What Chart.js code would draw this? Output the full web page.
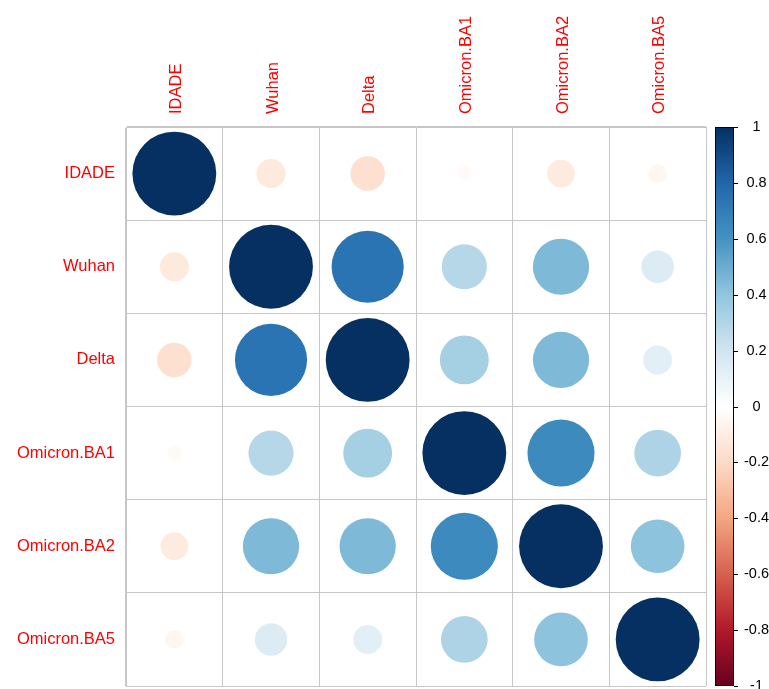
<!DOCTYPE html>
<html>
<head>
<meta charset="utf-8">
<script src="https://cdn.jsdelivr.net/npm/chart.js@4"></script>
<style>
  body { margin: 0; background: #fff; }
  #wrap { position: relative; width: 769px; height: 689px; }
</style>
</head>
<body>
<div id="wrap"><canvas id="corrChart"></canvas></div>
<script>
// variables (same order on both axes)
const variaveis = ["IDADE", "Wuhan", "Delta", "Omicron.BA1", "Omicron.BA2", "Omicron.BA5"];

// correlation matrix, one row per variable
const corIdade = [1, -0.12, -0.17, -0.03, -0.11, -0.05];
const corWuhan = [-0.12, 1, 0.74, 0.29, 0.45, 0.15];
const corDelta = [-0.17, 0.74, 1, 0.34, 0.45, 0.12];
const corBA1 = [-0.03, 0.29, 0.34, 1, 0.64, 0.31];
const corBA2 = [-0.11, 0.45, 0.45, 0.64, 1, 0.41];
const corBA5 = [-0.05, 0.15, 0.12, 0.31, 0.41, 1];
const matriz = [corIdade, corWuhan, corDelta, corBA1, corBA2, corBA5];

// colour legend ticks
const ticksLegenda = [-1, -0.8, -0.6, -0.4, -0.2, 0, 0.2, 0.4, 0.6, 0.8, 1];

// RdBu palette, from -1 to 1
const paleta = ["#67001F", "#B2182B", "#D6604D", "#F4A582", "#FDDBC7", "#FFFFFF",
  "#D1E5F0", "#92C5DE", "#4393C3", "#2166AC", "#053061"];

function hexParaRgb(h) {
  return [parseInt(h.slice(1, 3), 16), parseInt(h.slice(3, 5), 16), parseInt(h.slice(5, 7), 16)];
}

function corPara(v) {
  const pos = (v + 1) / 2 * (paleta.length - 1);
  const i = Math.min(Math.floor(pos), paleta.length - 2);
  const t = pos - i;
  const a = hexParaRgb(paleta[i]);
  const b = hexParaRgb(paleta[i + 1]);
  const c = a.map((x, k) => Math.round(x + (b[k] - x) * t));
  return `rgb(${c[0]}, ${c[1]}, ${c[2]})`;
}

const pontos = [];
matriz.forEach((linha, i) => {
  linha.forEach((valor, j) => {
    pontos.push({ x: variaveis[j], y: variaveis[i], v: valor });
  });
});

// circle radius: 0.45 cell * sqrt(|r|), like corrplot
function raioCirculo(c) {
  const a = c.chart.chartArea;
  if (!a || !c.raw) return 0;
  const n = variaveis.length;
  const celula = Math.min((a.right - a.left) / n, (a.bottom - a.top) / n);
  return 0.45 * celula * Math.sqrt(Math.abs(c.raw.v));
}

// draws the colour bar next to the right axis
const barraCores = {
  id: "barraCores",
  afterDraw(chart) {
    const ctx = chart.ctx;
    const escala = chart.scales.legenda;
    const area = chart.chartArea;
    const x0 = area.right + 9;
    const largura = 19;
    const yTopo = escala.getPixelForValue(1);
    const yBase = escala.getPixelForValue(-1);

    const grad = ctx.createLinearGradient(0, yBase, 0, yTopo);
    paleta.forEach((c, k) => grad.addColorStop(k / (paleta.length - 1), c));

    ctx.save();
    ctx.fillStyle = grad;
    ctx.fillRect(x0, yTopo, largura, yBase - yTopo);
    ctx.strokeStyle = "#000";
    ctx.lineWidth = 1;
    ctx.strokeRect(x0 + 0.5, yTopo + 0.5, largura - 1, yBase - yTopo - 1);

    ctx.beginPath();
    ticksLegenda.forEach((t) => {
      const y = Math.round(escala.getPixelForValue(t)) + 0.5;
      ctx.moveTo(x0 + largura, y);
      ctx.lineTo(x0 + largura + 4, y);
    });
    ctx.stroke();
    ctx.restore();
  },
};

const fonteRotulos = { family: "'Liberation Sans', Arial, sans-serif", size: 16.5 };

function semPadding(s) {
  s.paddingTop = 0;
  s.paddingBottom = 0;
  s.paddingLeft = 0;
  s.paddingRight = 0;
}

const config = {
  type: "scatter",
  data: {
    datasets: [
      {
        data: pontos,
        xAxisID: "x",
        yAxisID: "y",
        pointBackgroundColor: (c) => corPara(c.raw ? c.raw.v : 0),
        pointBorderWidth: 0,
        pointRadius: raioCirculo,
        pointHoverRadius: raioCirculo,
        clip: false,
      },
    ],
  },
  options: {
    responsive: true,
    maintainAspectRatio: false,
    animation: false,
    events: [],
    layout: { autoPadding: false, padding: { top: 0, right: 0, bottom: 3, left: 0 } },
    plugins: {
      legend: { display: false },
      tooltip: { enabled: false },
    },
    scales: {
      x: {
        type: "category",
        position: "top",
        labels: variaveis,
        offset: true,
        grid: { offset: true, color: "#c6c6c6", drawTicks: false },
        border: { color: "#c6c6c6" },
        ticks: { color: "#FF0000", font: fonteRotulos, minRotation: 90, maxRotation: 90, padding: 13, labelOffset: 22 },
        afterFit: (s) => { s.height = 127; semPadding(s); },
      },
      y: {
        type: "category",
        position: "left",
        labels: variaveis,
        offset: true,
        grid: { offset: true, color: "#c6c6c6", drawTicks: false },
        border: { color: "#c6c6c6" },
        ticks: { color: "#FF0000", font: fonteRotulos, padding: 11 },
        afterFit: (s) => { s.width = 126; semPadding(s); },
      },
      legenda: {
        type: "linear",
        position: "right",
        min: -1,
        max: 1,
        grid: { display: false, drawTicks: false },
        border: { display: false },
        afterBuildTicks: (s) => { s.ticks = ticksLegenda.map((v) => ({ value: v })); },
        ticks: {
          color: "#000",
          font: { family: "'Liberation Sans', Arial, sans-serif", size: 14.5 },
          crossAlign: "center",
          padding: 38,
          callback: (v) => String(v),
        },
        afterFit: (s) => { s.width = 63; semPadding(s); },
      },
    },
  },
  plugins: [barraCores],
};

new Chart(document.getElementById("corrChart"), config);
</script>
</body>
</html>
